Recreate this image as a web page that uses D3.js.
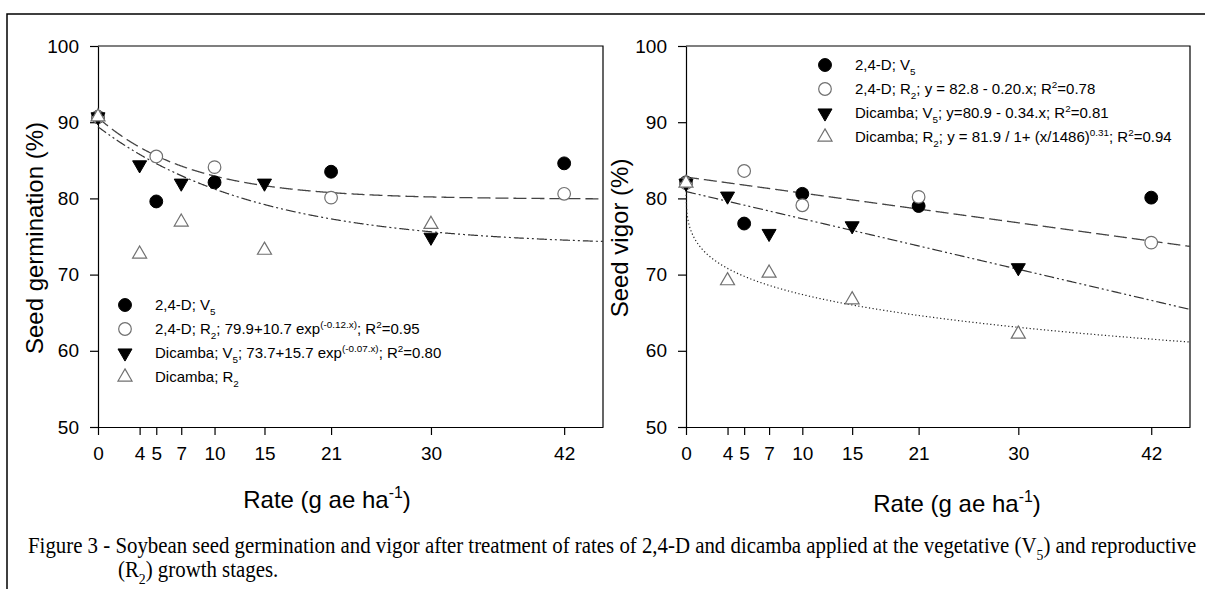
<!DOCTYPE html>
<html>
<head>
<meta charset="utf-8">
<script src="https://cdnjs.cloudflare.com/ajax/libs/d3/7.8.5/d3.min.js"></script>
<style>
  body { margin: 0; background: #fff; }
  svg { display: block; font-family: "Liberation Sans", Arial, sans-serif; }
</style>
</head>
<body>
<div id="chart"></div>
<script>
// rates applied (g ae/ha): 1/8, 1/4, 1/2 and full of 42 (2,4-D) and 30 (dicamba)
var rates24D = [0, 5.25, 10.5, 21, 42];
var ratesDicamba = [0, 3.75, 7.5, 15, 30];
var xTicks = [0, 3.75, 5.25, 7.5, 10.5, 15, 21, 30, 42];
var xTickLabels = ["0", "4", "5", "7", "10", "15", "21", "30", "42"];
var yTicks = [50, 60, 70, 80, 90, 100];

// seed germination (%)
var germ24dV5 = [90.7, 79.6, 82.1, 83.5, 84.6];
var germ24dR2 = [90.7, 85.5, 84.1, 80.1, 80.6];
var germDicV5 = [90.7, 84.4, 82.0, 82.0, 74.9];
var germDicR2 = [90.7, 72.7, 76.9, 73.2, 76.6];

// seed vigor (%)
var vigor24dV5 = [82.1, 76.7, 80.6, 79.0, 80.1];
var vigor24dR2 = [82.0, 83.6, 79.1, 80.2, 74.2];
var vigorDicV5 = [82.0, 80.3, 75.4, 76.4, 70.9];
var vigorDicR2 = [82.0, 69.2, 70.2, 66.7, 62.2];

// fitted models, coefficients as printed in the legends
var fitGerm24dR2 = [79.9, 10.7, -0.12];   // a + b*exp(c*x)
var fitGermDicV5 = [73.7, 15.7, -0.07];   // a + b*exp(c*x)
var fitVigor24dR2 = [82.8, -0.20];        // a + b*x
var fitVigorDicV5 = [80.9, -0.34];        // a + b*x
var fitVigorDicR2 = [81.9, 1486, 0.31];   // a / (1 + (x/b)^c)

var W = 1205, H = 589;
var svg = d3.select("#chart").append("svg")
  .attr("width", W)
  .attr("height", H);
svg.append("rect").attr("width", W).attr("height", H).attr("fill", "#fff");

// page frame (top and left rule)
svg.append("path")
  .attr("d", "M7," + H + "V14H" + W)
  .attr("fill", "none")
  .attr("stroke", "#000")
  .attr("stroke-width", 1.5);

var markers = {
  dot:     {type: d3.symbolCircle,   size: 130, fill: "#000", stroke: "#000", rot: 180, sw: 1},
  ring:    {type: d3.symbolCircle,   size: 125, fill: "#fff", stroke: "#707070", rot: 0, sw: 1.2},
  triDown: {type: d3.symbolTriangle, size: 85,  fill: "#000", stroke: "#000", rot: 180, sw: 1},
  triUp:   {type: d3.symbolTriangle, size: 85,  fill: "#fff", stroke: "#707070", rot: 0, sw: 1.2}
};

var lineStyles = {
  dash:    {dash: "13,5", color: "#444", w: 1.3},
  dashDot: {dash: "10,3,2,3,2,3", color: "#333", w: 1.2},
  dotted:  {dash: "1.2,2.4", color: "#222", w: 1.2}
};

function expModel(p) { return function (v) { return p[0] + p[1] * Math.exp(p[2] * v); }; }
function linModel(p) { return function (v) { return p[0] + p[1] * v; }; }
function logModel(p) { return function (v) { return p[0] / (1 + Math.pow(v / p[1], p[2])); }; }

// text with sub/superscripts: segs = [[text, "sub"|"sup"|undefined], ...]
function richText(sel, segs, size) {
  var shift = 0;
  segs.forEach(function (s) {
    var target = s[1] === "sub" ? size * 0.3 : s[1] === "sup" ? -size * 0.42 : 0;
    sel.append("tspan")
      .attr("dy", target - shift)
      .style("font-size", (s[1] ? size * 0.66 : size) + "px")
      .text(s[0]);
    shift = target;
  });
}

function drawMarker(g, m, px, py) {
  g.append("path")
    .attr("transform", "translate(" + px + "," + py + ") rotate(" + m.rot + ")")
    .attr("d", d3.symbol(m.type, m.size)())
    .attr("fill", m.fill)
    .attr("stroke", m.stroke)
    .attr("stroke-width", m.sw);
}

function panel(cfg) {
  var x = d3.scaleLinear().domain([0, 45.5]).range([cfg.left, cfg.right]);
  var y = d3.scaleLinear().domain([50, 100]).range([427, 46]);
  var g = svg.append("g");

  // top and right frame
  g.append("path")
    .attr("d", "M" + x(0) + "," + y(100) + "H" + x(45.5) + "V" + y(50))
    .attr("fill", "none")
    .attr("stroke", "#000")
    .attr("stroke-width", 1.2);

  var ya = g.append("g")
    .attr("transform", "translate(" + x(0) + ",0)")
    .call(d3.axisLeft(y).tickValues(yTicks).tickSize(8).tickSizeOuter(0).tickPadding(11));
  var xa = g.append("g")
    .attr("transform", "translate(0," + y(50) + ")")
    .call(d3.axisBottom(x).tickValues(xTicks)
      .tickFormat(function (d, i) { return xTickLabels[i]; })
      .tickSize(8).tickSizeOuter(0).tickPadding(12));
  [ya, xa].forEach(function (a) {
    a.selectAll("path, line").attr("stroke", "#000").attr("stroke-width", 1.2);
    a.selectAll("text")
      .attr("fill", "#000")
      .style("font-family", "'Liberation Sans', Arial, sans-serif")
      .style("font-size", "19px");
  });

  // fitted curves
  var xs = d3.range(0, 45.5, 0.05).concat([45.5]);
  cfg.fits.forEach(function (f) {
    var st = lineStyles[f.style];
    g.append("path")
      .datum(xs.map(function (v) { return [v, f.fn(v)]; }))
      .attr("fill", "none")
      .attr("stroke", st.color)
      .attr("stroke-width", st.w)
      .attr("stroke-dasharray", st.dash)
      .attr("d", d3.line()
        .x(function (d) { return x(d[0]); })
        .y(function (d) { return y(d[1]); }));
  });

  // observed means
  cfg.series.forEach(function (s) {
    s.values.forEach(function (v, i) {
      drawMarker(g, markers[s.marker], x(s.rates[i]), y(v));
    });
  });

  // legend
  cfg.series.forEach(function (s, i) {
    var ry = cfg.legY + i * 24;
    drawMarker(g, markers[s.marker], cfg.legX, ry);
    var t = g.append("text")
      .attr("x", cfg.legX + 30)
      .attr("y", ry + 5)
      .attr("fill", "#000");
    richText(t, s.label, 15);
  });

  // axis titles
  g.append("text")
    .attr("transform", "translate(" + cfg.yTitleX + ",238) rotate(-90)")
    .attr("text-anchor", "middle")
    .style("font-size", "24px")
    .text(cfg.yTitle);
  var xt = g.append("text")
    .attr("x", cfg.xTitleX)
    .attr("y", cfg.xTitleY)
    .attr("text-anchor", "middle");
  richText(xt, [["Rate (g ae ha"], ["-1", "sup"], [")"]], 24);
}

panel({
  left: 98, right: 603,
  yTitle: "Seed germination (%)", yTitleX: 43,
  xTitleX: 327, xTitleY: 508,
  legX: 125, legY: 305,
  fits: [
    {fn: expModel(fitGerm24dR2), style: "dash"},
    {fn: expModel(fitGermDicV5), style: "dashDot"}
  ],
  series: [
    {rates: rates24D, values: germ24dV5, marker: "dot",
     label: [["2,4-D; V"], ["5", "sub"]]},
    {rates: rates24D, values: germ24dR2, marker: "ring",
     label: [["2,4-D; R"], ["2", "sub"], ["; 79.9+10.7 exp"], ["(-0.12.x)", "sup"], ["; R"], ["2", "sup"], ["=0.95"]]},
    {rates: ratesDicamba, values: germDicV5, marker: "triDown",
     label: [["Dicamba; V"], ["5", "sub"], ["; 73.7+15.7 exp"], ["(-0.07.x)", "sup"], ["; R"], ["2", "sup"], ["=0.80"]]},
    {rates: ratesDicamba, values: germDicR2, marker: "triUp",
     label: [["Dicamba; R"], ["2", "sub"]]}
  ]
});

panel({
  left: 686, right: 1190,
  yTitle: "Seed vigor (%)", yTitleX: 628,
  xTitleX: 957, xTitleY: 512,
  legX: 825, legY: 65,
  fits: [
    {fn: linModel(fitVigor24dR2), style: "dash"},
    {fn: linModel(fitVigorDicV5), style: "dashDot"},
    {fn: logModel(fitVigorDicR2), style: "dotted"}
  ],
  series: [
    {rates: rates24D, values: vigor24dV5, marker: "dot",
     label: [["2,4-D; V"], ["5", "sub"]]},
    {rates: rates24D, values: vigor24dR2, marker: "ring",
     label: [["2,4-D; R"], ["2", "sub"], ["; y = 82.8 - 0.20.x; R"], ["2", "sup"], ["=0.78"]]},
    {rates: ratesDicamba, values: vigorDicV5, marker: "triDown",
     label: [["Dicamba; V"], ["5", "sub"], ["; y=80.9 - 0.34.x; R"], ["2", "sup"], ["=0.81"]]},
    {rates: ratesDicamba, values: vigorDicR2, marker: "triUp",
     label: [["Dicamba; R"], ["2", "sub"], ["; y = 81.9 / 1+ (x/1486)"], ["0.31", "sup"], ["; R"], ["2", "sup"], ["=0.94"]]}
  ]
});

// caption, condensed serif like the source
var cap = svg.append("g").style("font-family", "'Liberation Serif', 'Times New Roman', serif");
var cap1 = cap.append("text").attr("fill", "#000");
richText(cap1, [["Figure 3 - Soybean seed germination and vigor after treatment of rates of 2,4-D and dicamba applied at the vegetative (V"], ["5", "sub"], [") and reproductive"]], 23);
var cap2 = cap.append("text").attr("fill", "#000");
richText(cap2, [["(R"], ["2", "sub"], [") growth stages."]], 23);
var k = 1169 / cap1.node().getBBox().width;
cap1.attr("transform", "translate(28,553) scale(" + k + ",1)");
cap2.attr("transform", "translate(118,577) scale(" + k + ",1)");
</script>
</body>
</html>
